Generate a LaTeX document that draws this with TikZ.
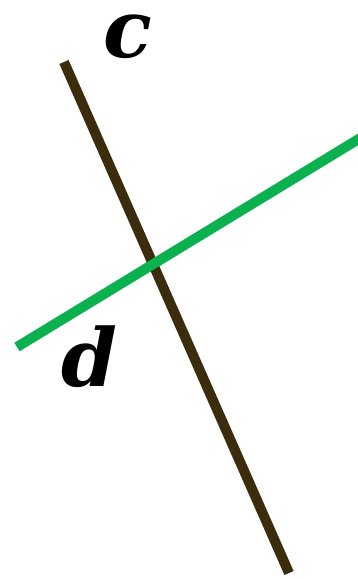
\documentclass[tikz,border=0pt]{standalone}
\usepackage{fontspec}
\newfontfamily\labfont{DejaVu Serif}
\definecolor{darkline}{HTML}{3A2C0C}
\definecolor{greenline}{HTML}{0BB04F}
\begin{document}
\begin{tikzpicture}[x=1pt,y=-1pt,
  lab/.style={font=\labfont\bfseries\itshape\fontsize{80}{80}\selectfont, inner sep=0pt, anchor=base, text depth=0pt},
  seg/.style={line width=10pt}]
\useasboundingbox (0,0) rectangle (357,579);
\coordinate (c1) at (64,62);
\coordinate (c2) at (289,573);
\coordinate (d1) at (17,347);
\coordinate (d2) at (362,137);
\draw[seg,darkline] (c1) -- (c2);
\draw[seg,greenline] (d1) -- (d2);
\node[lab, text height=0.56em] (lc) at (128,57) {c};
\node[lab, text height=0.78em] (ld) at (89,386) {d};
\end{tikzpicture}
\end{document}
